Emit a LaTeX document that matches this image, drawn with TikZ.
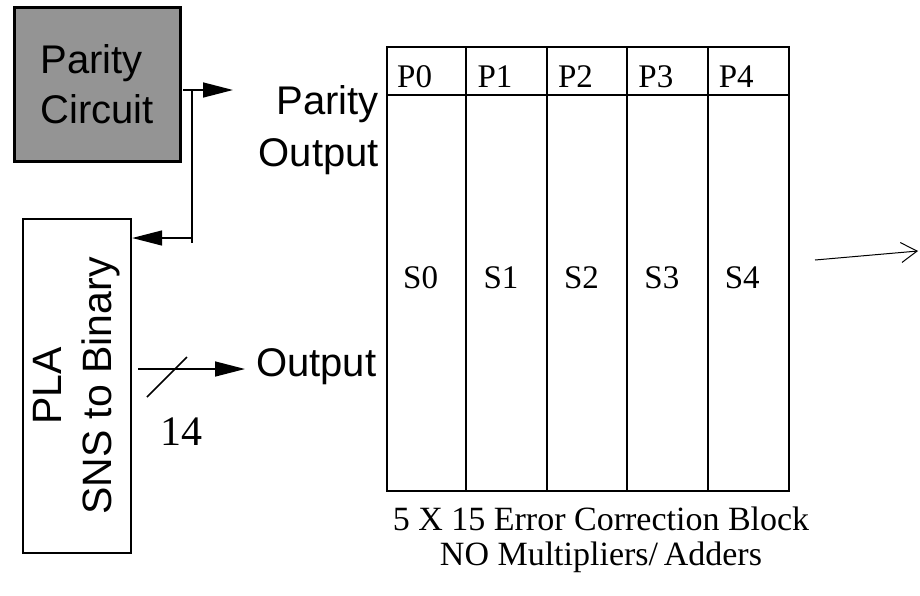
\documentclass[tikz,border=0pt]{standalone}
\usepackage{fontspec}
\setmainfont{Liberation Serif}
\newfontfamily\sansf{Liberation Sans}
\usetikzlibrary{arrows.meta,calc}
\begin{document}
\begin{tikzpicture}[x=1pt,y=-1pt,
  sanslbl/.style={font=\sansf\fontsize{40pt}{50pt}\selectfont, inner sep=0pt},
  serlbl/.style={font=\fontsize{33pt}{36pt}\selectfont, inner sep=0pt},
  fatarrow/.style={line width=1.5pt, -{Triangle[length=30pt,width=15pt]}},
  thin/.style={line width=1.5pt},
  grid/.style={line width=1.9pt}]
\useasboundingbox (0,0) rectangle (920,595);
% Parity circuit box
\node[draw, line width=3pt, fill=black!42, minimum width=166pt, minimum height=154pt,
      align=left, font=\sansf\fontsize{40pt}{50pt}\selectfont, inner sep=0pt] (par) at (97,84) {Parity\\Circuit};
% PLA box
\node[draw, line width=2.4pt, rotate=90, minimum width=334pt, minimum height=108pt,
      align=center, font=\sansf\fontsize{41pt}{50pt}\selectfont, inner sep=0pt] (pla) at (77,386) {PLA\\SNS to Binary};
% Parity output labels
\node[sanslbl, anchor=base east] (pt1) at (379,114) {Parity};
\node[sanslbl, anchor=base east] (pt2) at (379,166) {Output};
% Output label
\node[sanslbl, anchor=base west] (out) at (256,376) {Output};
% 14 label
\node[font=\fontsize{42pt}{44pt}\selectfont, inner sep=0pt] (n14) at (181,432) {14};
% Error correction block
\node[draw, grid, minimum width=402pt, minimum height=444pt, anchor=north west, inner sep=0pt] (blk) at (386,46) {};
\coordinate (hl) at ($(blk.north west)+(0,49)$);
\coordinate (hr) at ($(blk.north east)+(0,49)$);
\draw[grid] (hl) -- (hr);
\foreach \i in {1,2,3,4}{
  \draw[grid] ($(blk.north west)+(\i*80.4,0)$) -- ($(blk.south west)+(\i*80.4,0)$);
}
\foreach \i in {0,1,2,3,4}{
  \node[serlbl, anchor=base west] (p\i) at ($(blk.north west)+(\i*80.4+11,41)$) {P\i};
  \node[serlbl, anchor=base west] (s\i) at ($(blk.north west)+(\i*80.4+17,242)$) {S\i};
}
% caption
\node[font=\fontsize{34pt}{35pt}\selectfont, align=center, inner sep=0pt, anchor=base] (cap) at (601,565) {5 X 15 Error Correction Block\\NO Multipliers/\,Adders};
% connectors
\coordinate (pa1) at (183,90);
\coordinate (pa2) at (233,90);
\draw[fatarrow] (pa1) -- (pa2);
\coordinate (j1) at (192,90);
\coordinate (j2) at (192,243);
\coordinate (j3) at (192,238);
\draw[thin] (j1) -- (j2);
\draw[fatarrow] (j3) -- (pla.south |- j3);
\coordinate (o1) at (138,369);
\coordinate (o2) at (245,369);
\draw[fatarrow] (o1) -- (o2);
\coordinate (sl1) at (147,397);
\coordinate (sl2) at (187,357);
\draw[thin] (sl1) -- (sl2);
\coordinate (r1) at (815,260);
\coordinate (r2) at (918,251);
\draw[line width=1pt, -{Straight Barb[length=16pt,width=20pt]}] (r1) -- (r2);
\end{tikzpicture}
\end{document}
